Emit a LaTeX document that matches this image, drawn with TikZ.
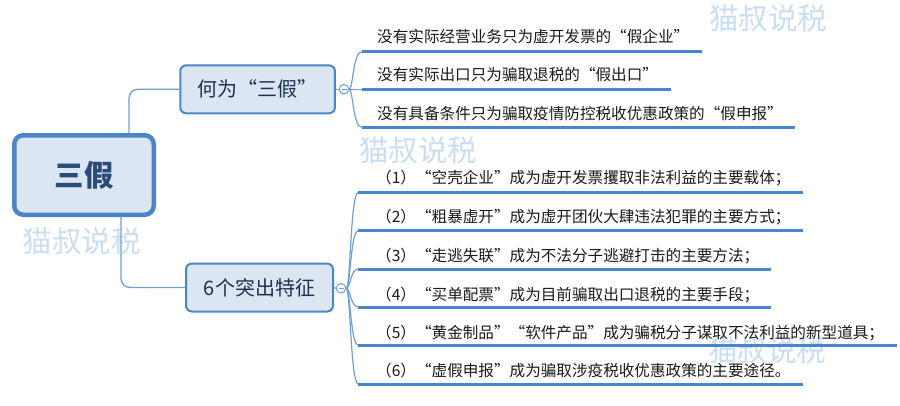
\documentclass[tikz,border=0pt]{standalone}
\usepackage{fontspec}
\setmainfont{Noto Sans CJK SC}
\definecolor{bord}{HTML}{4A86C8}
\definecolor{boxfill}{HTML}{DCE6F2}
\definecolor{conn}{HTML}{6FA0D8}
\definecolor{uline}{HTML}{4A86CC}
\definecolor{wm}{HTML}{C9DEF2}
\definecolor{nodetext}{HTML}{1F3050}
\definecolor{roottext}{HTML}{2B4B7A}
\definecolor{leaftext}{HTML}{1A1A1A}
\tikzset{
  rootbox/.style={draw=bord, line width=4.5pt, fill=boxfill, rounded corners=9pt,
    minimum width=139.5pt, minimum height=79.5pt, inner sep=0pt,
    text=roottext, font=\fontsize{29.5}{31}\selectfont\bfseries},
  subbox/.style={draw=bord, line width=2pt, fill=boxfill, rounded corners=6pt,
    minimum height=48pt, inner sep=0pt, text=nodetext,
    font=\fontsize{20}{22}\selectfont},
  conline/.style={draw=conn, line width=1.3pt, rounded corners=9pt},
  branch/.style={draw=conn, line width=1.2pt},
  uline/.style={draw=uline, line width=3pt},
  foldc/.style={circle, draw=conn, line width=1pt, fill=white, minimum size=9.5pt, inner sep=0pt},
  leaf/.style={anchor=west, inner sep=0pt, text=leaftext, font=\fontsize{15.6}{17}\selectfont},
  wmark/.style={text=wm, inner sep=0pt, font=\fontsize{29.5}{31}\selectfont}
}
\begin{document}
\begin{tikzpicture}[x=1pt,y=-1pt]
\path[use as bounding box, fill=white] (0,0) rectangle (900,405);
% watermarks
\node[wmark] (w1) at (768,18) {猫叔说税};
\node[wmark] (w2) at (418,150) {猫叔说税};
\node[wmark] (w3) at (82,241) {猫叔说税};
\node[wmark] (w4) at (767,350) {猫叔说税};
% main nodes
\node[rootbox] (root) at (84,175) {三假};
\node[subbox, minimum width=154.7pt] (up) at (257.6,89.3) {何为“三假”};
\node[subbox, minimum width=147pt] (low) at (259.5,287.5) {6个突出特征};
\draw[conline] ([xshift=45pt]root.north) |- (up.west);
\draw[conline] ([xshift=37pt]root.south) |- (low.west);
% fold circles
\node[foldc] (c1) at (344,89.3) {};
\node[foldc] (c2) at (341,288.3) {};
\draw[conn, line width=0.9pt] ([xshift=-2.5pt]c1.center) -- ([xshift=2.5pt]c1.center);
\draw[conn, line width=0.9pt] ([xshift=-2.5pt]c2.center) -- ([xshift=2.5pt]c2.center);
\draw[branch] (up.east) -- (c1.west);
\draw[branch] (low.east) -- (c2.west);
% upper leaves
\coordinate (a1) at (361.7,51.7);  \coordinate (a1e) at (701.7,51.7);
\coordinate (a2) at (361.7,89.3);  \coordinate (a2e) at (670.7,89.3);
\coordinate (a3) at (361.7,127.3); \coordinate (a3e) at (795,127.3);
\foreach \p/\y in {a1/51.7,a2/89.3,a3/127.3}{
  \draw[branch] (c1.east) .. controls (353,89.3) and (353,\y) .. (\p);
}
\draw[uline] (a1) -- (a1e);
\draw[uline] (a2) -- (a2e);
\draw[uline] (a3) -- (a3e);
\node[leaf] (t1) at (377,36.7) {没有实际经营业务只为虚开发票的“假企业”};
\node[leaf] (t2) at (377,75) {没有实际出口只为骗取退税的“假出口”};
\node[leaf] (t3) at (377,113.3) {没有具备条件只为骗取疫情防控税收优惠政策的“假申报”};
% lower leaves
\coordinate (b1) at (358.3,192.3); \coordinate (b1e) at (802.7,192.3);
\coordinate (b2) at (358.3,230.7); \coordinate (b2e) at (802.7,230.7);
\coordinate (b3) at (358.3,269);   \coordinate (b3e) at (771,269);
\coordinate (b4) at (358.3,307);   \coordinate (b4e) at (771,307);
\coordinate (b5) at (358.3,345.3); \coordinate (b5e) at (897,345.3);
\coordinate (b6) at (358.3,384);   \coordinate (b6e) at (802.7,384);
\foreach \p/\y in {b1/192.3,b2/230.7,b3/269,b4/307,b5/345.3,b6/384}{
  \draw[branch] (c2.east) .. controls (350.5,288.3) and (350.5,\y) .. (\p);
}
\foreach \p in {b1,b2,b3,b4,b5,b6}{
  \draw[uline] (\p) -- (\p e);
}
\node[leaf] (s1) at (376,178.3) {（1）“空壳企业”成为虚开发票攫取非法利益的主要载体；};
\node[leaf] (s2) at (376,217.3) {（2）“粗暴虚开”成为虚开团伙大肆违法犯罪的主要方式；};
\node[leaf] (s3) at (376,256) {（3）“走逃失联”成为不法分子逃避打击的主要方法；};
\node[leaf] (s4) at (376,295) {（4）“买单配票”成为目前骗取出口退税的主要手段；};
\node[leaf] (s5) at (376,332.7) {（5）“黄金制品”“软件产品”成为骗税分子谋取不法利益的新型道具；};
\node[leaf] (s6) at (376,370.7) {（6）“虚假申报”成为骗取涉疫税收优惠政策的主要途径。};
\end{tikzpicture}
\end{document}
